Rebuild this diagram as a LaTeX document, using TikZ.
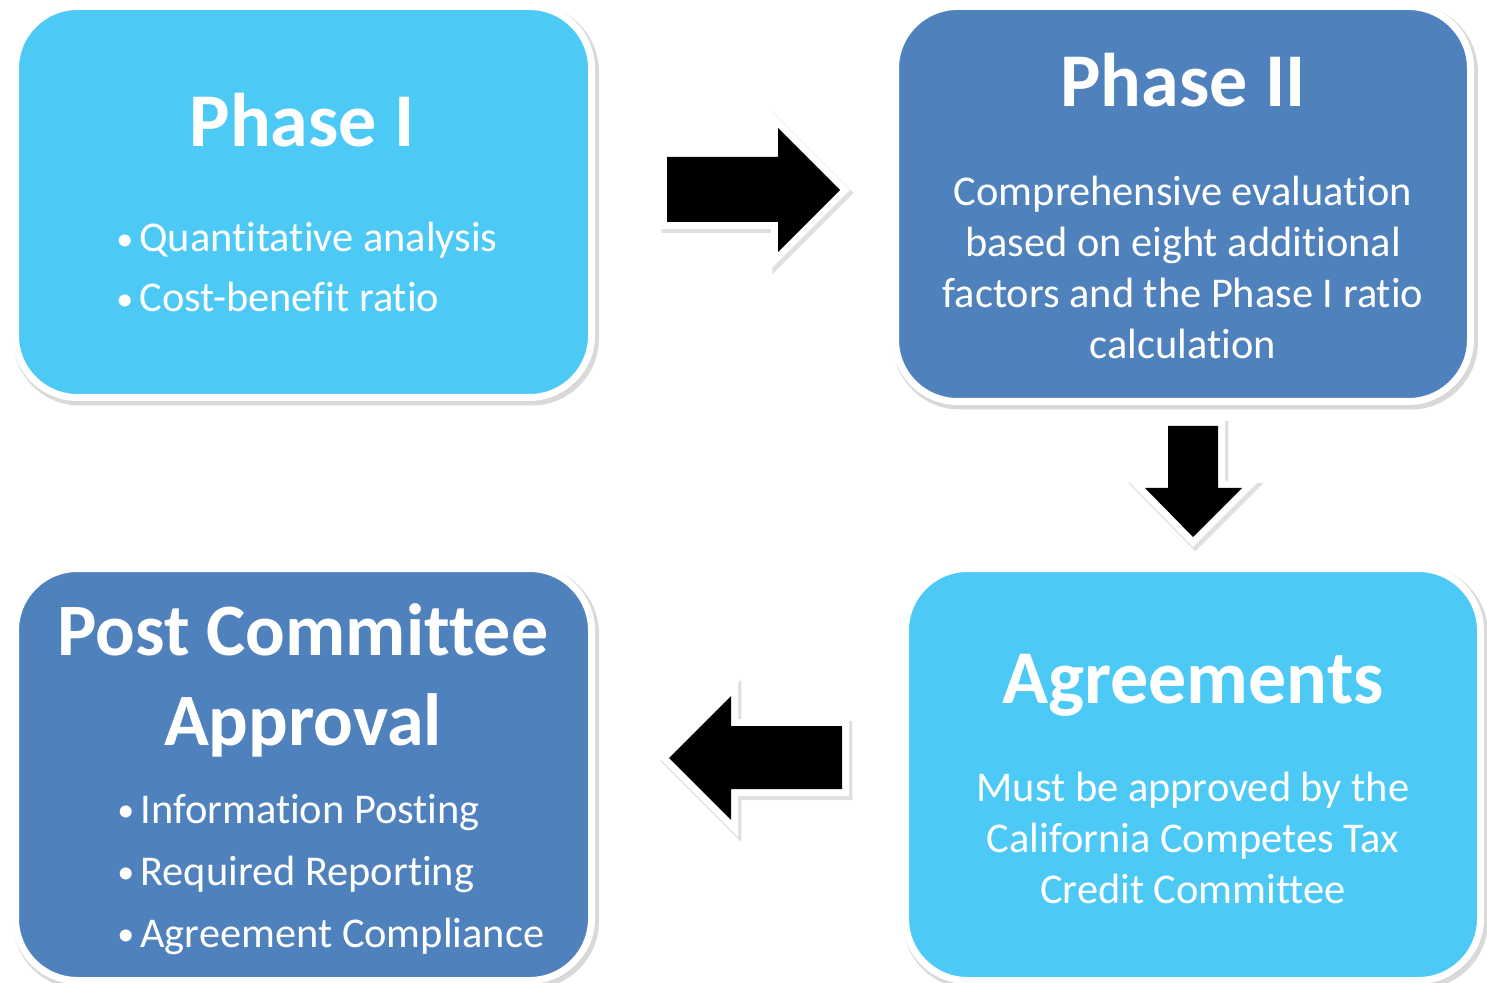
\documentclass[tikz,border=0pt]{standalone}
\usepackage{fontspec}
\setmainfont{Carlito}[Ligatures=NoCommon]
\usetikzlibrary{shadows}

\definecolor{skyfill}{HTML}{4DC9F5}
\definecolor{steelfill}{HTML}{4F81BD}

\tikzset{
  phasebox/.style={rounded corners=31pt, draw=white, line width=3.5pt, inner sep=0pt,
    drop shadow={shadow xshift=1.2pt, shadow yshift=-1.5pt, opacity=.15, fill=black, draw=black, line width=5pt}},
  blockarrow/.style={fill=black, line join=miter,
    drop shadow={shadow xshift=1.2pt, shadow yshift=-1.5pt, opacity=.12, fill=black, draw=black, line width=8pt, line join=miter},
    preaction={draw=white, line width=7pt, line join=miter}},
  boxtitle/.style={text=white, anchor=base, inner sep=0pt, font=\fontsize{38}{46}\bfseries\selectfont},
  boxtext/.style={text=white, anchor=base, inner sep=0pt, align=center, font=\fontsize{21.2}{25.5}\selectfont},
  bullets/.style={text=white, anchor=base west, inner sep=0pt, align=left, font=\fontsize{21.2}{#1}\selectfont}
}
\newcommand{\bul}{\makebox[11.5pt][l]{\raisebox{0.6pt}{\fontsize{17}{17}\selectfont\textbullet}}}

\begin{document}
\begin{tikzpicture}[x=0.5pt, y=-0.5pt]
                \useasboundingbox[fill=white] (0,0) rectangle (1487,983);

                % Boxes:
                \node[phasebox, fill=skyfill, minimum width=288pt, minimum height=195.5pt] (phaseone) at (303.5,202) {};
                \node[phasebox, fill=steelfill, minimum width=287.5pt, minimum height=197.5pt] (phasetwo) at (1183,204) {};
                \node[phasebox, fill=skyfill, minimum width=287.5pt, minimum height=206pt] (agreements) at (1193,774.5) {};
                \node[phasebox, fill=steelfill, minimum width=288pt, minimum height=206pt] (postapproval) at (303.5,774.5) {};

                % Box texts (multi-line ones sit on their last line):
                \node[boxtitle] (phaseonetitle) at (302,147) {Phase I};
                \node[bullets=30pt] (phaseonelist) at (116,312) {\bul Quantitative analysis\\\bul Cost-benefit ratio};

                \node[boxtitle] (phasetwotitle) at (1183,107) {Phase II};
                \node[boxtext] (phasetwotext) at (1183,359) {Comprehensive evaluation\\based on eight additional\\factors and the Phase I ratio\\calculation};

                \node[boxtitle] (agreementstitle) at (1193,703) {Agreements};
                \node[boxtext] (agreementstext) at (1193,903) {Must be approved by the\\California Competes Tax\\Credit Committee};

                \node[boxtitle, align=center, font=\fontsize{37}{45}\bfseries\selectfont] (posttitle) at (303,745) {Post Committee\\Approval};
                \node[bullets=31pt] (postlist) at (117,947) {\bul Information Posting\\\bul Required Reporting\\\bul Agreement Compliance};

                % Arrows:
                \path[blockarrow] (667,157) -- (778,157) -- (778,128) -- (840,190) -- (778,252) -- (778,222) -- (667,222) -- cycle;
                \path[blockarrow] (1168,426) -- (1218,426) -- (1218,488) -- (1242,488) -- (1193,537) -- (1145,488) -- (1168,488) -- cycle;
                \path[blockarrow] (842,726) -- (731,726) -- (731,696) -- (669,758) -- (731,820) -- (731,789) -- (842,789) -- cycle;
            \end{tikzpicture}
\end{document}
